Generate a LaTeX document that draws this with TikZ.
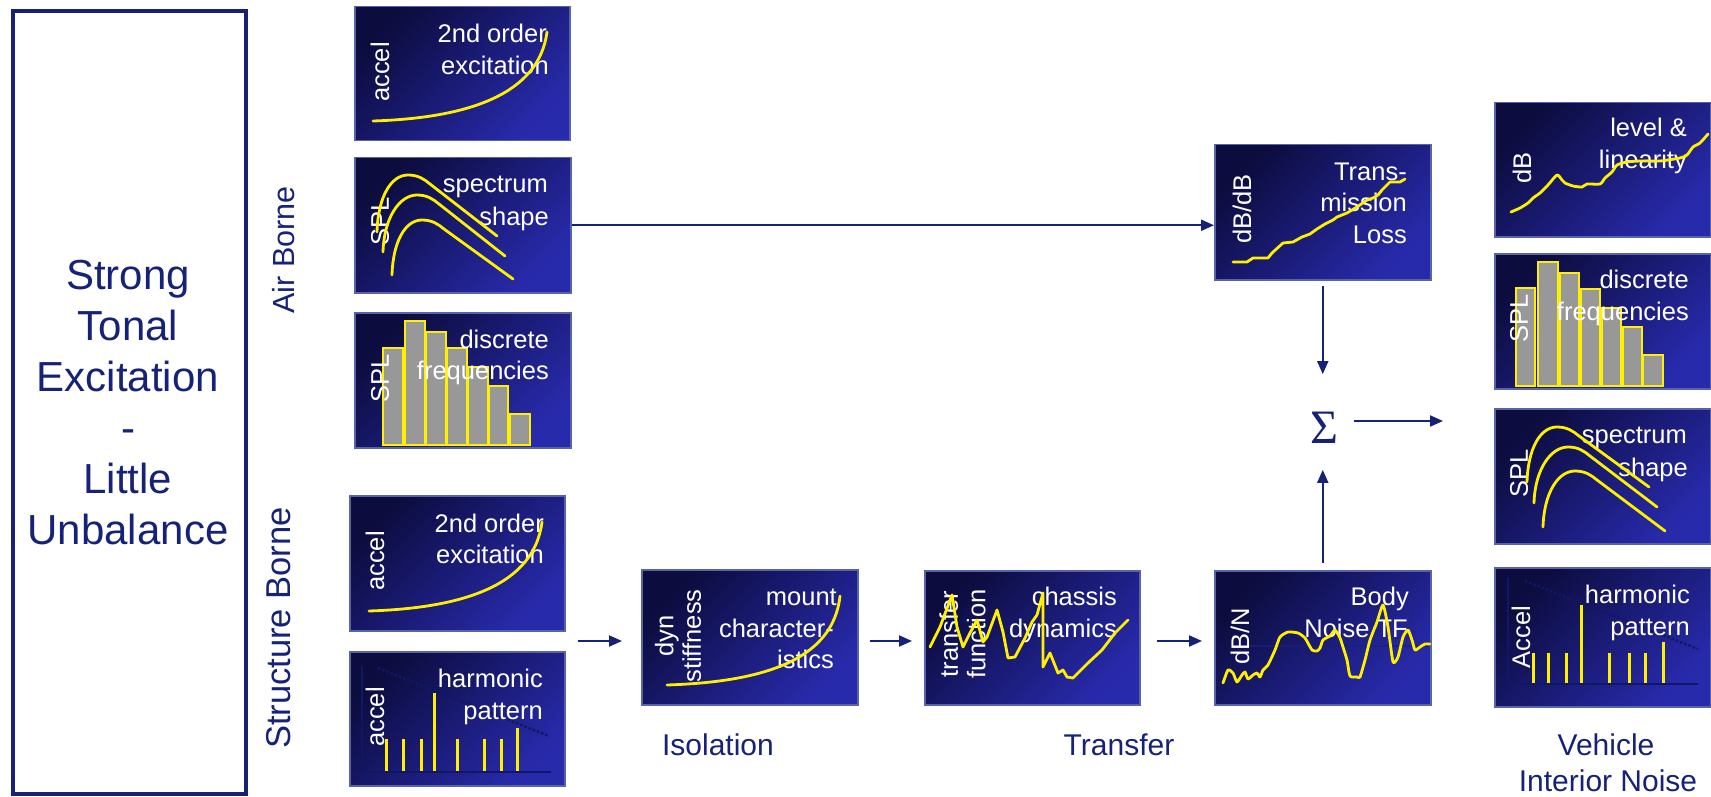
\documentclass[tikz,border=0pt]{standalone}
\usepackage{fontspec}
\setmainfont{Liberation Sans}
\newfontfamily\serifgr{Liberation Serif}
\usetikzlibrary{arrows.meta,calc}
\definecolor{navy}{RGB}{22,34,120}
\definecolor{pdark}{RGB}{12,12,62}
\definecolor{plight}{RGB}{40,42,172}
\definecolor{pborder}{RGB}{88,100,170}
\definecolor{yel}{RGB}{255,240,0}
\definecolor{bargray}{RGB}{152,152,152}
\definecolor{axisblue}{RGB}{14,24,100}
\newcommand\speccurve[6]{\draw[curve] (#1,#2) .. controls (#1+1,#4+22) and (#3-17,#4) .. (#3,#4) .. controls (#3+10,#4) and (#3+16,#4+4) .. (#3+22,#4+9) -- (#5,#6);}
\newcommand\mybar[3]{\path[bar] (#1,#3) rectangle (#2,133);}
\newcommand\harmbar[3]{\draw[hline] (#1,#2) -- (#1,#3);}
\begin{document}
\begin{tikzpicture}[x=1pt,y=-1pt,
 panel/.style={draw=pborder, line width=1.5pt, top color=pdark, bottom color=plight, shading angle=45, inner sep=0pt, minimum width=216pt, minimum height=135pt, anchor=north west},
 curve/.style={draw=yel, line width=2.8pt, line join=round, line cap=round},
 bar/.style={draw=yel, fill=bargray, line width=2.5pt},
 hline/.style={draw=yel, line width=3pt},
 axisl/.style={draw=axisblue, line width=2pt},
 ptxt/.style={text=white, font=\fontsize{25.5}{30}\selectfont, inner sep=0pt, anchor=base east},
 vtxt/.style={text=white, font=\fontsize{25.5}{27.5}\selectfont, inner sep=0pt, rotate=90, align=center},
 arr/.style={draw=navy, line width=2pt, -{Triangle[length=13pt,width=11pt]}},
 lbl/.style={text=navy, font=\fontsize{30}{36}\selectfont, inner sep=0pt},
]
\useasboundingbox (0,0) rectangle (1711,797);
\fill[white] (0,0) rectangle (1711,797);

% left box
\node[draw=navy, line width=4pt, minimum width=233pt, minimum height=783pt, inner sep=0pt, anchor=north west] (main) at (11,9) {};
\node[text=navy, font=\fontsize{42}{51}\selectfont, align=center, inner sep=0pt] (maintext) at (128,403) {Strong\\Tonal\\Excitation\\-\\Little\\Unbalance};

% side labels
\node[lbl, rotate=90, font=\fontsize{30.5}{36}\selectfont] (air) at (284,250) {Air Borne};
\node[lbl, rotate=90, font=\fontsize{34.5}{38}\selectfont] (struct) at (279,628) {Structure Borne};
\node[lbl] (iso) at (718,745) {Isolation};
\node[lbl] (tra) at (1119,745) {Transfer};
\node[lbl] (veh1) at (1606,745) {Vehicle};
\node[lbl] (veh2) at (1608,781) {Interior Noise};

% p1 accel
\node[panel, minimum width=215pt, minimum height=134pt] (p1) at (354,6) {};
\begin{scope}[shift={(p1.north west)}]
 \node[ptxt] (p1a) at (193,37) {2nd order};
 \node[ptxt] (p1b) at (195,69) {excitation};
 \node[vtxt] (p1c) at (26,66) {accel};
 \draw[curve] (19,115) .. controls (115,112) and (185,88) .. (193,26);
\end{scope}

% p2 spectrum
\node[panel] (p2) at (354,157) {};
\begin{scope}[shift={(p2.north west)}]
 \node[ptxt] (p2a) at (194,36) {spectrum};
 \node[ptxt] (p2b) at (195,68) {shape};
 \node[vtxt] (p2c) at (26,64) {SPL};
 \speccurve{23}{75}{54}{18}{143}{79}
 \speccurve{29}{95}{63}{38}{151}{99}
 \speccurve{38}{118}{68}{63}{159}{122}
\end{scope}

% p3 discrete
\node[panel] (p3) at (354,312) {};
\begin{scope}[shift={(p3.north west)}]
 \mybar{29}{49}{36}\mybar{51}{71}{9}\mybar{72}{92}{20}\mybar{93}{113}{36}
 \mybar{114}{134}{55}\mybar{135}{154}{74}\mybar{156}{176}{102}
 \node[ptxt] (p3a) at (195,36) {discrete};
 \node[ptxt] (p3b) at (195,67) {frequencies};
 \node[vtxt] (p3c) at (26,66) {SPL};
\end{scope}

% p4 accel structure
\node[panel, minimum width=215pt] (p4) at (349,495) {};
\begin{scope}[shift={(p4.north west)}]
 \node[ptxt] (p4a) at (195,37) {2nd order};
 \node[ptxt] (p4b) at (195,68) {excitation};
 \node[vtxt] (p4c) at (26,66) {accel};
 \draw[curve] (20,116) .. controls (115,113) and (185,90) .. (193,27);
\end{scope}

% p5 harmonic
\node[panel, minimum width=215pt, minimum height=134pt] (p5) at (349,651) {};
\begin{scope}[shift={(p5.north west)}]
 \draw[axisl] (13,15) -- (13,121) -- (202,121);
 \draw[axisblue, line width=2.5pt, dotted] (29,17) -- (200,85);
 \harmbar{37}{88}{120}\harmbar{54}{88}{120}\harmbar{72}{88}{120}\harmbar{85}{42}{120}
 \harmbar{108}{88}{120}\harmbar{135}{88}{120}\harmbar{152}{88}{120}\harmbar{168}{77}{120}
 \node[ptxt] (p5a) at (194,36) {harmonic};
 \node[ptxt] (p5b) at (194,68) {pattern};
 \node[vtxt] (p5c) at (26,66) {accel};
\end{scope}

% p6 mount
\node[panel] (p6) at (641,569) {};
\begin{scope}[shift={(p6.north west)}]
 \node[ptxt] (p6a) at (196,36) {mount};
 \node[ptxt] (p6b) at (193,68) {character-};
 \node[ptxt] (p6c) at (193,99) {istics};
 \node[vtxt] (p6d) at (37,67) {dyn\\stiffness};
 \draw[curve] (26,116) .. controls (120,113) and (192,92) .. (199,27);
\end{scope}

% p7 chassis
\node[panel, minimum width=215pt, minimum height=134pt] (p7) at (924,570) {};
\begin{scope}[shift={(p7.north west)}]
 \node[ptxt] (p7a) at (193,35) {chassis};
 \node[ptxt] (p7b) at (193,67) {dynamics};
 \node[vtxt] (p7c) at (38.5,64) {transfer\\function};
 \draw[curve] (6,77) -- (16,57) -- (28,25) -- (33,57) -- (39,77) -- (46,63) -- (53,50) -- (59,72) -- (63,67) -- (73,40) -- (79,62) -- (84,88) -- (91,87) -- (101,68) -- (108,52) -- (113,45) -- (119,23) -- (119,97) -- (126,83) -- (134,103) -- (139,100) -- (143,107) -- (149,108) -- (164,93) -- (178,80) -- (191,63) -- (204,50);
\end{scope}

% p8 body noise TF
\node[panel, minimum height=134pt] (p8) at (1214,570) {};
\begin{scope}[shift={(p8.north west)}]
 \draw[navy, line width=1.5pt, opacity=0.7] (30,76) -- (215,76);
 \node[ptxt] (p8a) at (195,35) {Body};
 \node[ptxt] (p8b) at (194,67) {Noise TF};
 \node[vtxt] (p8c) at (26,66) {dB/N};
 \draw[curve] plot[smooth, tension=0.35] coordinates {(9,113) (14,100) (19,103) (23,112) (28,105) (31,102) (34,109) (39,105) (43,103) (46,107) (49,100) (54,95) (61,80) (66,67) (74,62) (84,63) (91,68) (98,80) (103,81) (106,78) (109,70) (116,66) (121,60) (126,68) (129,77) (133,90) (136,106) (143,107) (146,107) (151,90) (156,70) (163,52) (169,35) (174,57) (179,92) (184,87) (189,67) (194,60) (198,70) (201,80) (206,77) (211,74) (216,74)};
\end{scope}

% p9 transmission loss
\node[panel] (p9) at (1214,144) {};
\begin{scope}[shift={(p9.north west)}]
 \node[ptxt] (p9a) at (193,36) {Trans-};
 \node[ptxt] (p9b) at (193,67) {mission};
 \node[ptxt] (p9c) at (193,99) {Loss};
 \node[vtxt] (p9d) at (28,65) {dB/dB};
 \draw[curve] (19,118) -- (33,118) -- (39,114) -- (54,114) -- (58,109) -- (69,99) -- (79,98) -- (88,93) -- (96,90) -- (103,85) -- (111,80) -- (119,76) -- (123,73) -- (133,69) -- (143,63) -- (153,56) -- (159,54) -- (164,51) -- (168,46) -- (176,38) -- (186,38) -- (191,35);
\end{scope}

% p10 level & linearity
\node[panel, minimum height=134pt] (p10) at (1494,102) {};
\begin{scope}[shift={(p10.north west)}]
 \node[ptxt] (p10a) at (193,35) {level \&};
 \node[ptxt] (p10b) at (193,66) {linearity};
 \node[vtxt] (p10c) at (28,66) {dB};
 \draw[curve] plot[smooth, tension=0.4] coordinates {(17,110) (26,106) (34,101) (39,96) (46,91) (54,83) (63,73) (68,78) (71,81) (79,84) (88,85) (93,82) (106,82) (111,76) (118,70) (123,63) (133,60) (146,59) (166,59) (186,56) (193,53) (199,45) (206,41) (214,32)};
\end{scope}

% p11 discrete right
\node[panel] (p11) at (1494,253) {};
\begin{scope}[shift={(p11.north west)}]
 \mybar{22}{41}{35}\mybar{44}{64}{9}\mybar{66}{85}{20}\mybar{87}{106}{36}
 \mybar{108}{127}{55}\mybar{129}{148}{74}\mybar{149}{169}{102}
 \node[ptxt] (p11a) at (195,35) {discrete};
 \node[ptxt] (p11b) at (195,67) {frequencies};
 \node[vtxt] (p11c) at (25,65) {SPL};
\end{scope}

% p12 spectrum right
\node[panel] (p12) at (1494,408) {};
\begin{scope}[shift={(p12.north west)}]
 \node[ptxt] (p12a) at (193,35) {spectrum};
 \node[ptxt] (p12b) at (194,68) {shape};
 \node[vtxt] (p12c) at (25,65) {SPL};
 \speccurve{33}{74}{63}{19}{155}{79}
 \speccurve{40}{95}{74}{39}{163}{99}
 \speccurve{49}{119}{81}{63}{171}{123}
\end{scope}

% p13 harmonic right
\node[panel, minimum height=139pt] (p13) at (1494,567) {};
\begin{scope}[shift={(p13.north west)}]
 \draw[axisl] (14,10) -- (14,117) -- (204,117);
 \draw[axisblue, line width=2.5pt, dotted] (31,14) -- (204,82);
 \harmbar{39}{86}{116}\harmbar{54}{86}{116}\harmbar{72}{86}{116}\harmbar{87}{38}{116}
 \harmbar{115}{86}{116}\harmbar{135}{86}{116}\harmbar{151}{86}{116}\harmbar{169}{75}{116}
 \node[ptxt] (p13a) at (196,36) {harmonic};
 \node[ptxt] (p13b) at (196,68) {pattern};
 \node[vtxt] (p13c) at (27,70) {Accel};
\end{scope}

% sigma
\node[text=navy, font=\fontsize{48}{48}\selectfont\serifgr, inner sep=0pt] (sigma) at (1324,428) {Σ};

% arrows
\draw[arr] (p2.east) -- (p2.east -| p9.west);
\draw[arr, shorten <=5pt, shorten >=38pt] (p9.south) -- (p9.south |- sigma.north);
\draw[arr, shorten <=7pt, shorten >=26pt] (p8.north) -- (p8.north |- sigma.south);
\coordinate (vin) at (1443,421);
\draw[arr] ($(sigma.east |- vin)+(16,0)$) -- (vin);
\coordinate (a1s) at (578,641);
\draw[arr, shorten >=19pt] (a1s) -- (a1s -| p6.west);
\coordinate (a2s) at (870,641);
\draw[arr, shorten >=12pt] (a2s) -- (a2s -| p7.west);
\coordinate (a3s) at (1157,641);
\draw[arr, shorten >=12pt] (a3s) -- (a3s -| p8.west);
\end{tikzpicture}
\end{document}
